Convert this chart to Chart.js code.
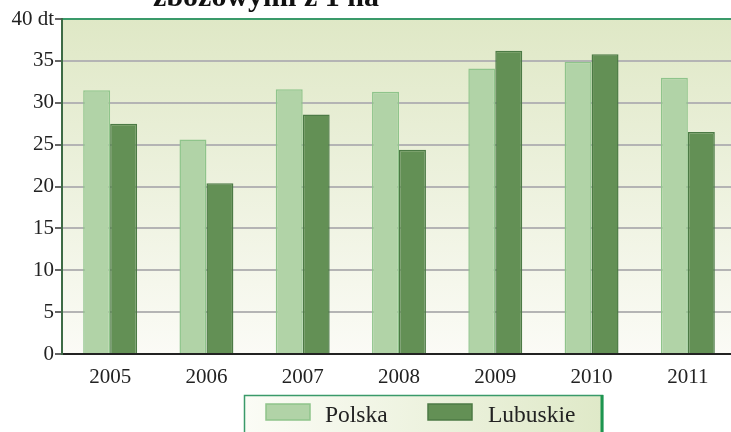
<!DOCTYPE html>
<html lang="pl">
<head>
<meta charset="utf-8">
<title>Plony zbóż</title>
<script src="https://cdn.jsdelivr.net/npm/chart.js@4/dist/chart.umd.min.js"></script>
<style>
  html, body { margin: 0; padding: 0; background: #fff; overflow: hidden; }
  #wrap { width: 731px; height: 432px; overflow: hidden; position: relative; }
  canvas { display: block; }
</style>
</head>
<body>
<div id="wrap"><canvas id="yieldChart" width="740" height="432"></canvas></div>
<script>
// plony zbóż z 1 ha (dt)
const years = ['2005', '2006', '2007', '2008', '2009', '2010', '2011'];
const polska = [31.5, 25.6, 31.6, 31.3, 34.1, 34.9, 33.0];
const lubuskie = [27.5, 20.4, 28.6, 24.4, 36.2, 35.8, 26.5];
const seriesNames = ['Polska', 'Lubuskie'];
const titleText = 'zbożowymi z 1 ha';

const serif = "'Liberation Serif', 'DejaVu Serif', serif";
const lightFill = '#b1d3a7', lightEdge = '#8fc48b';
const darkFill = '#639055', darkEdge = '#4c7a45';

// gradient behind the bars + title fragment at the very top
const backdrop = {
    id: 'backdrop',
    beforeDraw(chart) {
        const { ctx, chartArea: a } = chart;
        const g = ctx.createLinearGradient(0, a.top, 0, a.bottom);
        g.addColorStop(0, '#dfe8c6');
        g.addColorStop(1, '#fbfbf6');
        ctx.save();
        ctx.fillStyle = g;
        ctx.fillRect(a.left, a.top, a.right - a.left, a.bottom - a.top);
        ctx.fillStyle = '#111';
        ctx.font = 'bold 30px ' + serif;
        ctx.textAlign = 'center';
        ctx.textBaseline = 'alphabetic';
        ctx.fillText(titleText, 266, 6);
        ctx.restore();
    }
};

// legend box below the axis
const boxLegend = {
    id: 'boxLegend',
    afterDraw(chart) {
        const ctx = chart.ctx;
        const x0 = 244, x1 = 602, y0 = 395, y1 = 445;
        ctx.save();
        const g = ctx.createLinearGradient(x0, 0, x1, 0);
        g.addColorStop(0, '#fbfcf6');
        g.addColorStop(1, '#dfe9c8');
        ctx.fillStyle = g;
        ctx.fillRect(x0, y0, x1 - x0, y1 - y0);
        ctx.strokeStyle = '#3a9a6a';
        ctx.lineWidth = 1.5;
        ctx.strokeRect(x0 + 0.5, y0 + 0.5, x1 - x0, y1 - y0);
        ctx.strokeStyle = '#1e9650';
        ctx.lineWidth = 3;
        ctx.beginPath();
        ctx.moveTo(x1, y0);
        ctx.lineTo(x1, y1);
        ctx.stroke();

        const items = [
            { sx: 266, tx: 325 },
            { sx: 428, tx: 488 }
        ];
        ctx.font = '23.5px ' + serif;
        ctx.textBaseline = 'alphabetic';
        ctx.textAlign = 'left';
        chart.data.datasets.forEach((ds, i) => {
            const it = items[i];
            ctx.fillStyle = ds.backgroundColor;
            ctx.strokeStyle = ds.borderColor;
            ctx.lineWidth = 1.5;
            ctx.fillRect(it.sx, 404, 44, 16);
            ctx.strokeRect(it.sx, 404, 44, 16);
            ctx.fillStyle = '#222';
            ctx.fillText(ds.label, it.tx, 422);
        });
        ctx.restore();
    }
};

new Chart(document.getElementById('yieldChart'), {
    type: 'bar',
    data: {
        labels: years,
        datasets: [
            {
                label: seriesNames[0],
                data: polska,
                backgroundColor: lightFill,
                borderColor: lightEdge,
                borderWidth: 1.5
            },
            {
                label: seriesNames[1],
                data: lubuskie,
                backgroundColor: darkFill,
                borderColor: darkEdge,
                borderWidth: 1.5
            }
        ]
    },
    options: {
        responsive: false,
        animation: false,
        layout: { padding: { left: 0, right: 4, top: 19, bottom: 0 } },
        datasets: { bar: { categoryPercentage: 0.56, barPercentage: 1 } },
        plugins: {
            legend: { display: false },
            title: { display: false },
            tooltip: { enabled: false }
        },
        scales: {
            x: {
                grid: { display: false, drawTicks: false },
                border: { display: true, color: '#222', width: 2 },
                ticks: {
                    color: '#222',
                    padding: 11,
                    font: { family: serif, size: 21 }
                },
                afterFit(scale) { scale.height = 78; }
            },
            y: {
                min: 0,
                max: 40,
                grid: {
                    color: c => c.tick && c.tick.value === 40 ? '#3a9a6a' : '#b4b4b4',
                    lineWidth: 2,
                    tickColor: '#333',
                    tickLength: 7,
                    tickWidth: 1.5
                },
                border: { display: true, color: '#3d6b45', width: 2 },
                ticks: {
                    stepSize: 5,
                    color: '#222',
                    padding: 1,
                    font: { family: serif, size: 21 },
                    callback: v => v === 40 ? '40 dt' : v
                },
                afterFit(scale) { scale.width = 62; }
            }
        }
    },
    plugins: [backdrop, boxLegend]
});
</script>
</body>
</html>
